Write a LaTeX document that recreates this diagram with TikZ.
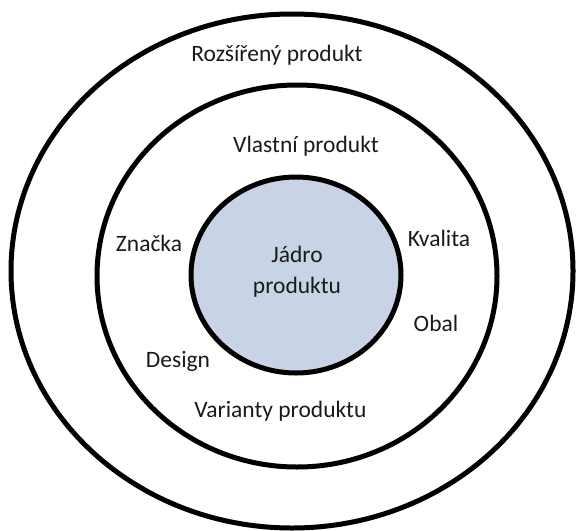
\documentclass[tikz,border=0pt]{standalone}
\usepackage{fontspec}
\setmainfont{Carlito}
\definecolor{jadro}{HTML}{C8D4E5}
\definecolor{txt}{HTML}{1A1A1A}

\begin{document}
\begin{tikzpicture}[
      x=1pt, y=-1pt,
      every node/.style={font=\fontsize{23.5}{31}\selectfont, text=txt, inner sep=0pt},
      ring/.style={line width=5pt},
      lab/.style={align=center}
    ]
    \useasboundingbox (0,0) rectangle (580,530);

    % vrstvy produktu
    \draw[ring] (292,271) ellipse [x radius=281, y radius=257];
    \draw[ring] (297,276) ellipse [x radius=200, y radius=191];
    \draw[ring, fill=jadro] (296,275) ellipse [x radius=105, y radius=98];

    \node[lab] (jadro) at (297,272) {Jádro\\produktu};

    \foreach \n/\x/\y/\lab in {
      rozsireny/277/55/{Rozšířený produkt},
      vlastni/306/146/{Vlastní produkt},
      znacka/149/243/{Značka},
      kvalita/439/238/{Kvalita},
      obal/436/323/{Obal},
      design/178/361/{Design},
      varianty/283/411/{Varianty produktu}
    }{
      \node[lab] (\n) at (\x,\y) {\lab};
    }

\end{tikzpicture}
\end{document}
